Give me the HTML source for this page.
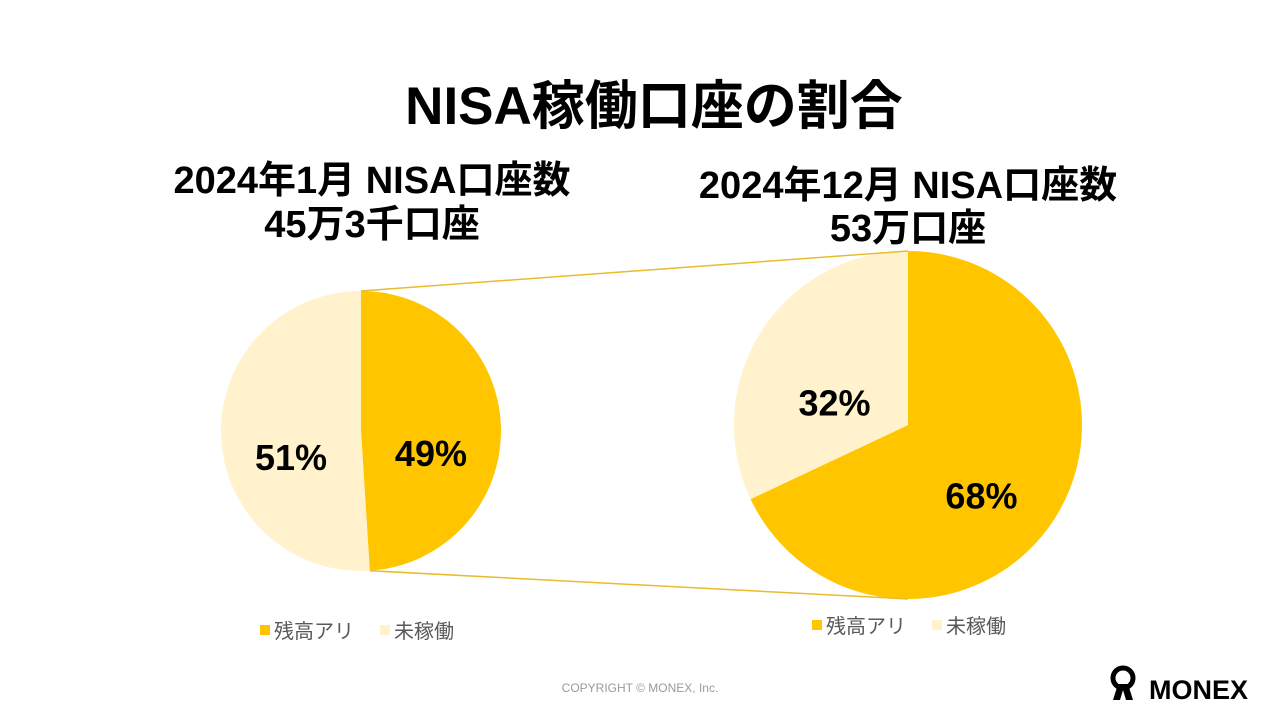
<!DOCTYPE html>
<html><head><meta charset="utf-8">
<style>
body{margin:0;width:1280px;height:720px;background:#fff;overflow:hidden;font-family:"Liberation Sans","Noto Sans CJK JP",sans-serif;}
svg{display:block}
.t{font-family:"Liberation Sans","Noto Sans CJK JP",sans-serif;}
</style></head>
<body>
<svg id="c" width="1280" height="720">
<text class="t" x="654" y="124" text-anchor="middle" font-size="53" font-weight="bold" fill="#000">NISA稼働口座の割合</text>
<text class="t" x="372" y="193" text-anchor="middle" font-size="38" font-weight="bold" fill="#000">2024年1月 NISA口座数</text>
<text class="t" x="372" y="237" text-anchor="middle" font-size="38" font-weight="bold" fill="#000">45万3千口座</text>
<text class="t" x="908" y="198" text-anchor="middle" font-size="38" font-weight="bold" fill="#000">2024年12月 NISA口座数</text>
<text class="t" x="908" y="241" text-anchor="middle" font-size="38" font-weight="bold" fill="#000">53万口座</text>
<g id="pies"></g>
<text class="t" x="640" y="692" text-anchor="middle" font-size="12" fill="#9a9a9a">COPYRIGHT © MONEX, Inc.</text>
<g>
<circle cx="1123" cy="678" r="10" fill="none" stroke="#000" stroke-width="5"/>
<path d="M1118 684 L1113 700 L1120 700 L1123 690 L1126 700 L1133 700 L1128 684 Z" fill="#000"/>
<text class="t" x="1149" y="699" font-size="27" font-weight="bold" fill="#000">MONEX</text>
</g>
</svg>
<script>
const categories=["残高アリ","未稼働"];
const janValues=[49,51];
const decValues=[68,32];
const colors=["#FFC600","#FFF2CC"];
const NS="http://www.w3.org/2000/svg";
const g=document.getElementById("pies");
function pt(cx,cy,r,frac){const a=frac*2*Math.PI;return [cx+r*Math.sin(a),cy-r*Math.cos(a)];}
function pie(cx,cy,r,vals,name,labelPos){
  const tot=vals.reduce((a,b)=>a+b,0);let acc=0;
  vals.forEach((v,i)=>{
    const f0=acc/tot,f1=(acc+v)/tot;acc+=v;
    const p0=pt(cx,cy,r,f0),p1=pt(cx,cy,r,f1);
    const large=(f1-f0)>0.5?1:0;
    const p=document.createElementNS(NS,"path");
    p.setAttribute("d",`M${cx},${cy} L${p0[0]},${p0[1]} A${r},${r} 0 ${large} 1 ${p1[0]},${p1[1]} Z`);
    p.setAttribute("fill",colors[i]);
    
    
    g.appendChild(p);
    const mid=pt(cx,cy,r*labelPos,(f0+f1)/2);
    const t=document.createElementNS(NS,"text");
    t.setAttribute("x",mid[0]);t.setAttribute("y",mid[1]+37);
    t.setAttribute("text-anchor","middle");t.setAttribute("font-size","36");
    t.setAttribute("font-weight","bold");t.setAttribute("class","t");
    t.textContent=Math.round(v/tot*100)+"%";
    
    
    g.appendChild(t);
  });
}
const L={cx:361,cy:431,r:140},R={cx:908,cy:425,r:174};
pie(L.cx,L.cy,L.r,janValues,"jan-pie",0.5);
pie(R.cx,R.cy,R.r,decValues,"dec-pie",0.5);
const lt=pt(L.cx,L.cy,L.r,0),lb=pt(L.cx,L.cy,L.r,janValues[0]/100);
[[lt,[R.cx,R.cy-R.r]],[lb,[R.cx,R.cy+R.r]]].forEach((s,i)=>{
  const l=document.createElementNS(NS,"line");
  l.setAttribute("x1",s[0][0]);l.setAttribute("y1",s[0][1]);
  l.setAttribute("x2",s[1][0]);l.setAttribute("y2",s[1][1]);
  l.setAttribute("stroke","#E8BC2C");l.setAttribute("stroke-width","1.5");
  
  
  g.appendChild(l);
});
[[260,635],[812,630]].forEach((pos,k)=>{
  categories.forEach((c,i)=>{
    const x=pos[0]+i*120;
    const r=document.createElementNS(NS,"rect");
    r.setAttribute("x",x);r.setAttribute("y",pos[1]-10);r.setAttribute("width",10);r.setAttribute("height",10);
    r.setAttribute("fill",colors[i]);
    
    
    g.appendChild(r);
    const t=document.createElementNS(NS,"text");
    t.setAttribute("x",x+14);t.setAttribute("y",pos[1]+3);
    t.setAttribute("font-size","20");t.setAttribute("fill","#595959");t.setAttribute("class","t");
    t.textContent=c;
    
    
    g.appendChild(t);
  });
});
</script>
</body></html>
